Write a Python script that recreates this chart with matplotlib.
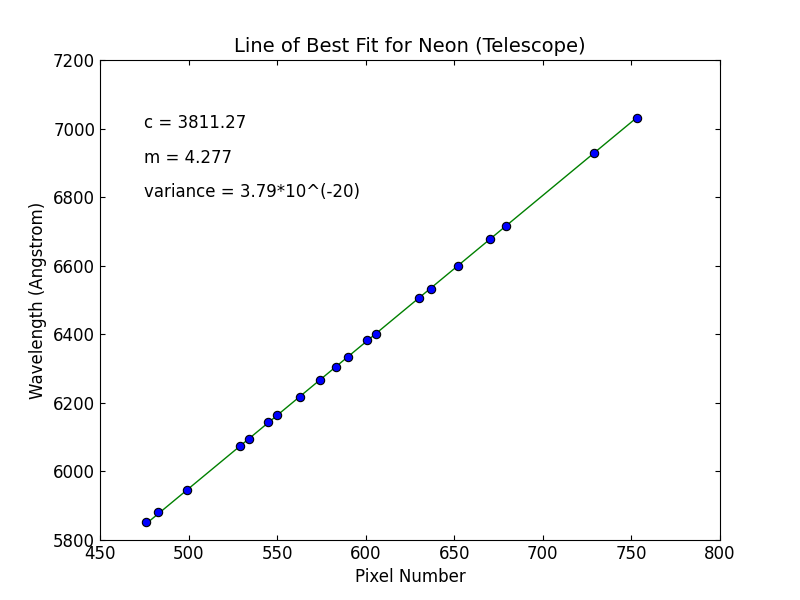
import numpy as np
import matplotlib
matplotlib.use("Agg")
import matplotlib.pyplot as plt

# pixel positions and wavelengths of neon lines
pixel = np.array([476, 483, 499, 529, 534, 545, 550, 563, 574, 583, 590,
                  601, 606, 630, 637, 652, 670, 679, 729, 753])
wavelength = np.array([5852, 5882, 5945, 6074, 6096, 6143, 6164, 6217, 6266,
                       6305, 6334, 6383, 6402, 6507, 6533, 6599, 6678, 6717,
                       6929, 7032])

c = 3811.27
m = 4.277

fig = plt.figure(figsize=(8, 6), dpi=100)
ax = fig.add_axes([0.125, 0.1, 0.775, 0.8])

ax.plot(pixel, c + m * pixel, '-', color='green', lw=1)
ax.plot(pixel, wavelength, 'o', color='blue', mec='black', ms=6, mew=0.8)

ax.set_xlim(450, 800)
ax.set_ylim(5800, 7200)
ax.set_title('Line of Best Fit for Neon (Telescope)', fontsize=14)
ax.set_xlabel('Pixel Number', fontsize=12)
ax.set_ylabel('Wavelength (Angstrom)', fontsize=12)
ax.tick_params(labelsize=12, direction='in', top=True, right=True)

ax.text(475, 7016, 'c = 3811.27', fontsize=12, va='center')
ax.text(475, 6914, 'm = 4.277', fontsize=12, va='center')
ax.text(475, 6815, 'variance = 3.79*10^(-20)', fontsize=12, va='center')

fig.savefig('out.png', dpi=100)
